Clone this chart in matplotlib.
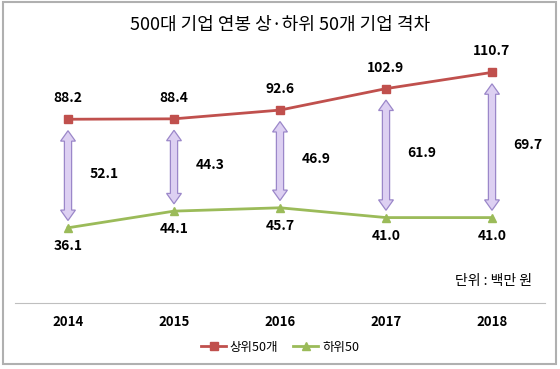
import matplotlib.pyplot as plt
from matplotlib.patches import Polygon, Rectangle

plt.rcParams['font.family'] = ['Noto Sans CJK KR', 'DejaVu Sans']

# data (unit: million won)
years = ['2014', '2015', '2016', '2017', '2018']
top50 = [88.2, 88.4, 92.6, 102.9, 110.7]
bottom50 = [36.1, 44.1, 45.7, 41.0, 41.0]
gaps = [52.1, 44.3, 46.9, 61.9, 69.7]

red = '#c0504d'
green = '#9bbb59'

fig = plt.figure(figsize=(5.6, 3.69), dpi=100)
ax = fig.add_axes([15 / 560, 66 / 369, 530 / 560, 250 / 369])

x = list(range(len(years)))
ax.plot(x, top50, '-s', color=red, lw=2, ms=6, label='상위50개')
ax.plot(x, bottom50, '-^', color=green, lw=2, ms=6, label='하위50')

# double-headed block arrows between the two series
for i in x:
    y0 = bottom50[i] + 3.5
    y1 = top50[i] - 5.5
    sw = 0.034   # half shaft width
    hw = 0.07    # half head width
    hl = 5.0     # head length
    pts = [(i, y1), (i + hw, y1 - hl), (i + sw, y1 - hl), (i + sw, y0 + hl),
           (i + hw, y0 + hl), (i, y0), (i - hw, y0 + hl), (i - sw, y0 + hl),
           (i - sw, y1 - hl), (i - hw, y1 - hl)]
    ax.add_patch(Polygon(pts, closed=True, facecolor='#ddd0f2',
                         edgecolor='#9b87c9', lw=0.9, zorder=1))
    mid = (top50[i] + bottom50[i]) / 2
    ax.text(i + 0.34, mid, f'{gaps[i]:.1f}', ha='center', va='center',
            fontsize=10, fontweight='bold')

for i in x:
    ax.annotate(f'{top50[i]:.1f}', (i, top50[i]), xytext=(0, 10),
                textcoords='offset points', ha='center', va='bottom',
                fontsize=10, fontweight='bold')
    ax.annotate(f'{bottom50[i]:.1f}', (i, bottom50[i]), xytext=(0, -8),
                textcoords='offset points', ha='center', va='top',
                fontsize=10, fontweight='bold')

ax.set_xlim(-0.5, 4.5)
ax.set_ylim(0, 120)
ax.set_xticks(x)
ax.set_xticklabels(years, fontsize=9.5, fontweight='bold')
ax.tick_params(axis='x', length=0, pad=9)
ax.set_yticks([])
for side in ['top', 'left', 'right']:
    ax.spines[side].set_visible(False)
ax.spines['bottom'].set_color('#bfbfbf')

ax.text(0.975, 0.09, '단위 : 백만 원', transform=ax.transAxes,
        ha='right', va='center', fontsize=10)

fig.text(0.5, 1 - 25 / 369, '500대 기업 연봉 상·하위 50개 기업 격차',
         ha='center', va='center', fontsize=13)

fig.legend(loc='center', bbox_to_anchor=(0.5, 1 - 347 / 369), ncol=2,
           frameon=False, fontsize=9, handlelength=2.0, columnspacing=1.2,
           handletextpad=0.3, markerscale=0.9)

fig.patches.append(Rectangle((2.5 / 560, 5 / 369), 553 / 560, 362 / 369,
                             transform=fig.transFigure, fill=False,
                             edgecolor='#b0b0b0', lw=1.5))

fig.savefig('out.png', dpi=100)
